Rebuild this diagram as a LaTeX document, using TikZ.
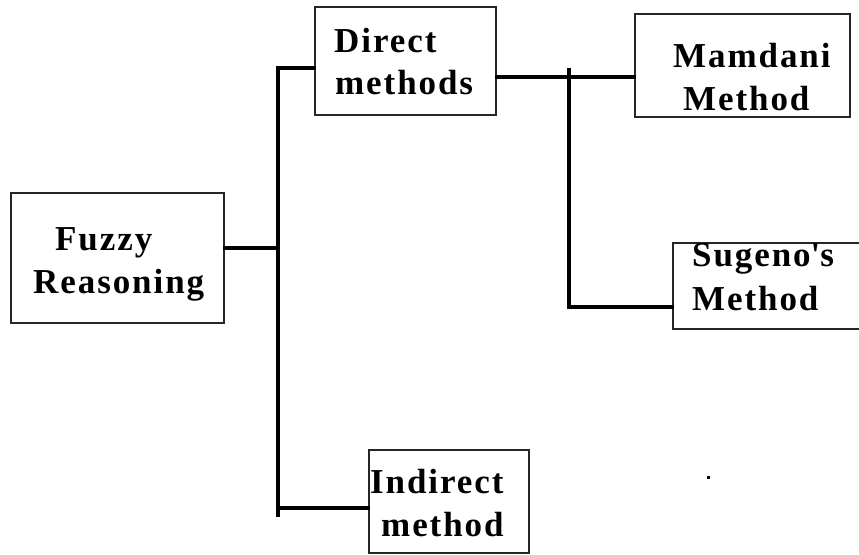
\documentclass[tikz,border=0pt]{standalone}
\usepackage{fontspec}
\setmainfont[LetterSpace=5.5]{Liberation Serif}
\begin{document}
\begin{tikzpicture}[x=1pt,y=-1pt,
  box/.style={draw=black!85, line width=1.3pt, rectangle, inner sep=0pt},
  lbl/.style={inner sep=0pt, anchor=base west, font=\fontsize{35}{42}\selectfont\bfseries},
  link/.style={line width=3.2pt, line cap=rect}]
\useasboundingbox (0,0) rectangle (859,554);
\fill[white] (0,0) rectangle (859,554);

% boxes
\node[box, minimum width=213pt, minimum height=130pt] (fr) at (117.5,258) {};
\node[box, minimum width=181pt, minimum height=108pt] (dm) at (405.5,61) {};
\node[box, minimum width=215pt, minimum height=103pt] (mm) at (742.5,65.5) {};
\node[box, minimum width=192pt, minimum height=86pt] (sm) at (769,286) {};
\node[box, minimum width=160pt, minimum height=103pt] (im) at (449,501.5) {};

% labels
\node[lbl] (frA) at (55,250) {Fuzzy};
\node[lbl] (frB) at (33,293) {Reasoning};
\node[lbl] (dmA) at (334,52) {Direct};
\node[lbl] (dmB) at (335,94) {methods};
\node[lbl] (mmA) at (673,67) {Mamdani};
\node[lbl] (mmB) at (683,110) {Method};
\node[lbl] (smA) at (692,266) {Sugeno\textquotesingle s};
\node[lbl] (smB) at (692,310) {Method};
\node[lbl] (imA) at (370,493) {Indirect};
\node[lbl] (imB) at (381,536) {method};

% junction points
\coordinate (ttop) at (278,68);
\coordinate (tmid) at (278,248);
\coordinate (tbot) at (278,515);
\coordinate (tind) at (278,508);
\coordinate (btop) at (569,77);
\coordinate (bbot) at (569,307);

% connectors
\draw[link] (ttop) -- (tbot);
\draw[link] (fr.east |- tmid) -- (tmid);
\draw[link] (ttop) -- (dm.west |- ttop);
\draw[link] (tind) -- (im.west |- tind);
\draw[link] (dm.east |- btop) -- (mm.west |- btop);
\draw[link] (569,70) -- (bbot);
\draw[link] (bbot) -- (sm.west |- bbot);

% stray dot
\fill (706.5,475.5) rectangle (709.5,478.5);
\end{tikzpicture}
\end{document}
